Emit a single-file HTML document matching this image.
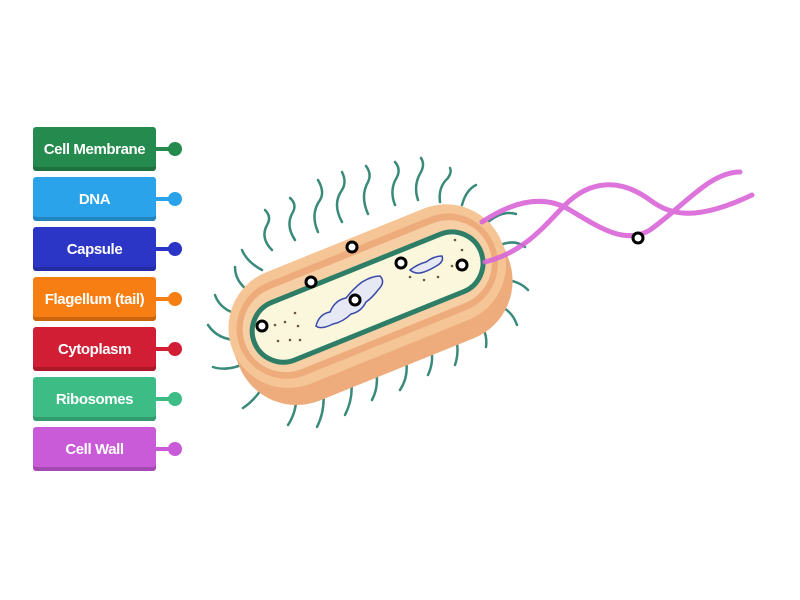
<!DOCTYPE html>
<html><head><meta charset="utf-8"><style>
body{margin:0;width:800px;height:600px;background:#fff;overflow:hidden;font-family:"Liberation Sans",sans-serif}
.b{position:absolute;left:33px;width:123px;height:44px;border-radius:3px;color:#fff;font-size:15px;font-weight:bold;display:flex;align-items:center;justify-content:center;letter-spacing:-0.4px;box-shadow:inset 0 -4px 0 rgba(0,0,0,0.18)}
</style></head><body>
<div class="b" style="top:127px;background:#248a4d">Cell Membrane</div>
<div class="b" style="top:177px;background:#2aa3ea">DNA</div>
<div class="b" style="top:227px;background:#2b36c7">Capsule</div>
<div class="b" style="top:277px;background:#f77e12">Flagellum (tail)</div>
<div class="b" style="top:327px;background:#d21e34">Cytoplasm</div>
<div class="b" style="top:377px;background:#3dbd85">Ribosomes</div>
<div class="b" style="top:427px;background:#c95ad8">Cell Wall</div>
<svg width="800" height="600" style="position:absolute;left:0;top:0">
<g stroke-width="4">
<line x1="156" y1="149" x2="175" y2="149" stroke="#248a4d"/><circle cx="175" cy="149" r="7" fill="#248a4d" stroke="none"/>
<line x1="156" y1="199" x2="175" y2="199" stroke="#2aa3ea"/><circle cx="175" cy="199" r="7" fill="#2aa3ea" stroke="none"/>
<line x1="156" y1="249" x2="175" y2="249" stroke="#2b36c7"/><circle cx="175" cy="249" r="7" fill="#2b36c7" stroke="none"/>
<line x1="156" y1="299" x2="175" y2="299" stroke="#f77e12"/><circle cx="175" cy="299" r="7" fill="#f77e12" stroke="none"/>
<line x1="156" y1="349" x2="175" y2="349" stroke="#d21e34"/><circle cx="175" cy="349" r="7" fill="#d21e34" stroke="none"/>
<line x1="156" y1="399" x2="175" y2="399" stroke="#3dbd85"/><circle cx="175" cy="399" r="7" fill="#3dbd85" stroke="none"/>
<line x1="156" y1="449" x2="175" y2="449" stroke="#c95ad8"/><circle cx="175" cy="449" r="7" fill="#c95ad8" stroke="none"/>
</g>
<!-- pili -->
<g stroke="#3a8a7a" stroke-width="2.5" fill="none" stroke-linecap="round">
<path d="M272 250 q-12 -12 -5 -25 q5 -8 -2 -15"/><path d="M295 240 q-10 -15 -2 -28 q4 -8 -3 -14"/><path d="M318 232 q-8 -18 2 -32 q5 -8 -2 -20"/><path d="M342 222 q-10 -18 0 -32 q5 -8 0 -18"/><path d="M368 214 q-8 -18 0 -32 q4 -8 -2 -16"/>
<path d="M395 205 q-6 -15 2 -28 q4 -8 -2 -15"/><path d="M418 200 q-5 -15 3 -28 q4 -8 0 -14"/><path d="M440 202 q-2 -15 8 -24 q4 -6 2 -10"/><path d="M462 205 q4 -15 14 -20"/>
<path d="M488 222 q15 -12 28 -8"/><path d="M500 245 q15 -6 25 2"/><path d="M503 280 q15 0 25 10"/><path d="M497 305 q15 5 20 20"/>
<path d="M478 322 q10 10 8 25"/><path d="M455 335 q5 15 0 30"/><path d="M430 345 q5 15 -2 30"/><path d="M405 355 q5 20 -5 35"/>
<path d="M375 365 q5 20 -3 35"/><path d="M350 375 q5 20 -5 40"/><path d="M322 382 q5 25 -5 45"/><path d="M296 390 q2 20 -8 35"/>
<path d="M268 378 q-10 20 -25 30"/><path d="M248 362 q-20 10 -35 5"/><path d="M238 340 q-20 0 -30 -15"/><path d="M240 315 q-20 -5 -25 -20"/><path d="M250 292 q-15 -10 -15 -25"/><path d="M262 270 q-15 -8 -20 -20"/>
</g>
<g transform="translate(368,298) rotate(-22)">
<rect x="-145" y="-58" width="290" height="135" rx="62" fill="#eeac7c"/>
<rect x="-145" y="-62" width="290" height="120" rx="60" fill="#f5c596"/>
<rect x="-137" y="-52" width="274" height="100" rx="50" fill="#eeac7c"/>
<rect x="-131" y="-45" width="262" height="86" rx="43" fill="#f7cfa4"/>
<rect x="-122" y="-32" width="244" height="62" rx="31" fill="#fbf7dc" stroke="#2e7d67" stroke-width="5"/>
</g>
<!-- DNA -->
<g stroke="#3a4aa8" stroke-width="1.5" fill="#e6e8f4">
<path d="M316 326 q3 -12 14 -14 q5 -12 16 -14 q8 -10 16 -16 q10 -6 18 -6 q6 6 -2 14 q-6 8 -12 12 q-5 10 -15 12 q-8 8 -18 10 q-12 6 -17 2z"/>
<path d="M410 270 q8 -6 16 -8 q8 -6 16 -6 q2 5 -4 9 q-8 5 -14 7 q-8 3 -14 -2z"/>
</g>
<g fill="#6a5a3a">
<circle cx="275" cy="325" r="1.3"/><circle cx="285" cy="322" r="1.3"/><circle cx="298" cy="326" r="1.3"/><circle cx="278" cy="341" r="1.3"/><circle cx="290" cy="340" r="1.3"/><circle cx="300" cy="340" r="1.3"/><circle cx="295" cy="313" r="1.3"/>
<circle cx="410" cy="277" r="1.3"/><circle cx="424" cy="280" r="1.3"/><circle cx="438" cy="277" r="1.3"/><circle cx="452" cy="266" r="1.3"/><circle cx="455" cy="240" r="1.3"/><circle cx="462" cy="250" r="1.3"/>
</g>
<!-- flagella -->
<g fill="none" stroke="#d965d8" stroke-width="5" stroke-linecap="round" opacity="0.9">
<path d="M482 222 C515 200 545 195 570 210 C600 228 625 245 650 230 C685 205 710 172 740 172"/>
<path d="M485 262 C525 252 545 225 565 205 C590 180 620 178 650 200 C670 215 695 222 752 195"/>
</g>
<g fill="#fff" stroke="#000" stroke-width="3">
<circle cx="352" cy="247" r="5"/><circle cx="311" cy="282" r="5"/><circle cx="401" cy="263" r="5"/><circle cx="462" cy="265" r="5"/>
<circle cx="355" cy="300" r="5"/><circle cx="262" cy="326" r="5"/><circle cx="638" cy="238" r="5"/>
</g>
</svg>
</body></html>
